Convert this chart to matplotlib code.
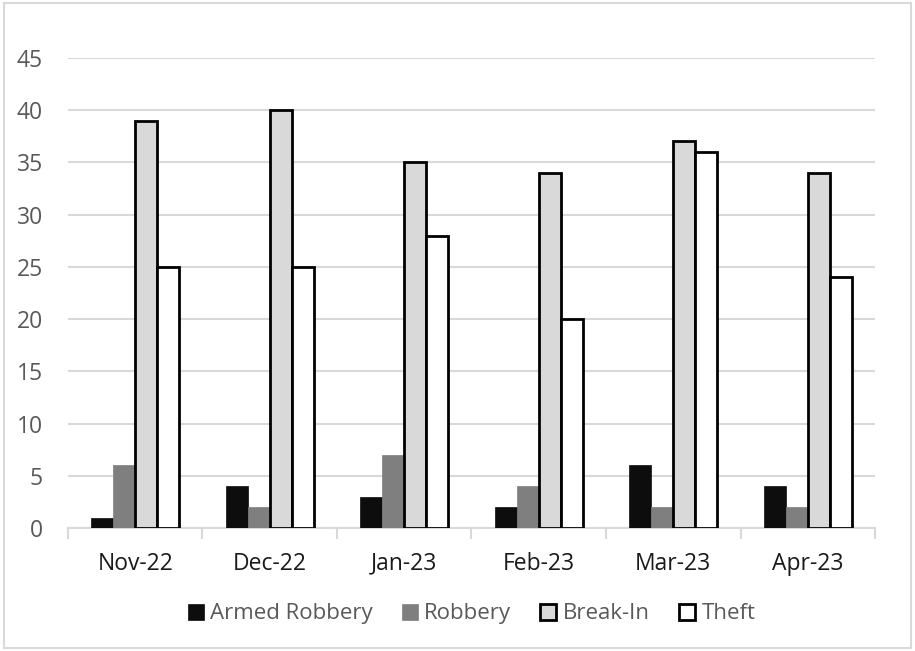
import numpy as np
import matplotlib.pyplot as plt
from matplotlib.patches import Rectangle

months = ['Nov-22', 'Dec-22', 'Jan-23', 'Feb-23', 'Mar-23', 'Apr-23']
armed_robbery = [1, 4, 3, 2, 6, 4]
robbery = [6, 2, 7, 4, 2, 2]
break_in = [39, 40, 35, 34, 37, 34]
theft = [25, 25, 28, 20, 36, 24]

series = [
    ('Armed Robbery', armed_robbery, '#0d0d0d', '#0d0d0d'),
    ('Robbery', robbery, '#7f7f7f', '#7f7f7f'),
    ('Break-In', break_in, '#d9d9d9', 'black'),
    ('Theft', theft, 'white', 'black'),
]

plt.rcParams['font.family'] = ['Open Sans', 'DejaVu Sans']

fig = plt.figure(figsize=(9.15, 6.51), dpi=100)
ax = fig.add_axes([0.0743, 0.189, 0.882, 0.722])

x = np.arange(len(months))
w = 0.164
for i, (name, vals, fc, ec) in enumerate(series):
    ax.bar(x + (i - 1.5) * w, vals, w, color=fc, edgecolor=ec,
           linewidth=2 if ec == 'black' else 0.5, label=name, zorder=3)

ax.set_xlim(-0.5, len(months) - 0.5)
ax.set_ylim(0, 45)
ax.set_yticks(np.arange(0, 46, 5))
ax.grid(axis='y', color='#d9d9d9', linewidth=1.5, zorder=0)
for s in ['top', 'right', 'left']:
    ax.spines[s].set_visible(False)
ax.spines['bottom'].set_color('#d9d9d9')
ax.spines['bottom'].set_linewidth(1.5)

ax.set_xticks(x)
ax.set_xticklabels(months, fontsize=16.5, color='#1a1a1a')
ax.tick_params(axis='x', length=0, pad=17)
ax.set_xticks(np.arange(-0.5, len(months)), minor=True)
ax.tick_params(axis='x', which='minor', length=8, width=1.5, color='#d9d9d9')
ax.tick_params(axis='y', length=0, labelsize=16.5, labelcolor='#595959', pad=18)

leg = ax.legend(loc='upper center', bbox_to_anchor=(0.5, -0.118), ncol=4,
                frameon=False, fontsize=16, handlelength=0.72, handleheight=0.72,
                handletextpad=0.3, columnspacing=1.3)
for t in leg.get_texts():
    t.set_color('#595959')

fig.patches.append(Rectangle((0.004, 0.004), 0.992, 0.992, transform=fig.transFigure,
                             fill=False, edgecolor='#d9d9d9', linewidth=1.5))

fig.savefig('out.png', dpi=100)
